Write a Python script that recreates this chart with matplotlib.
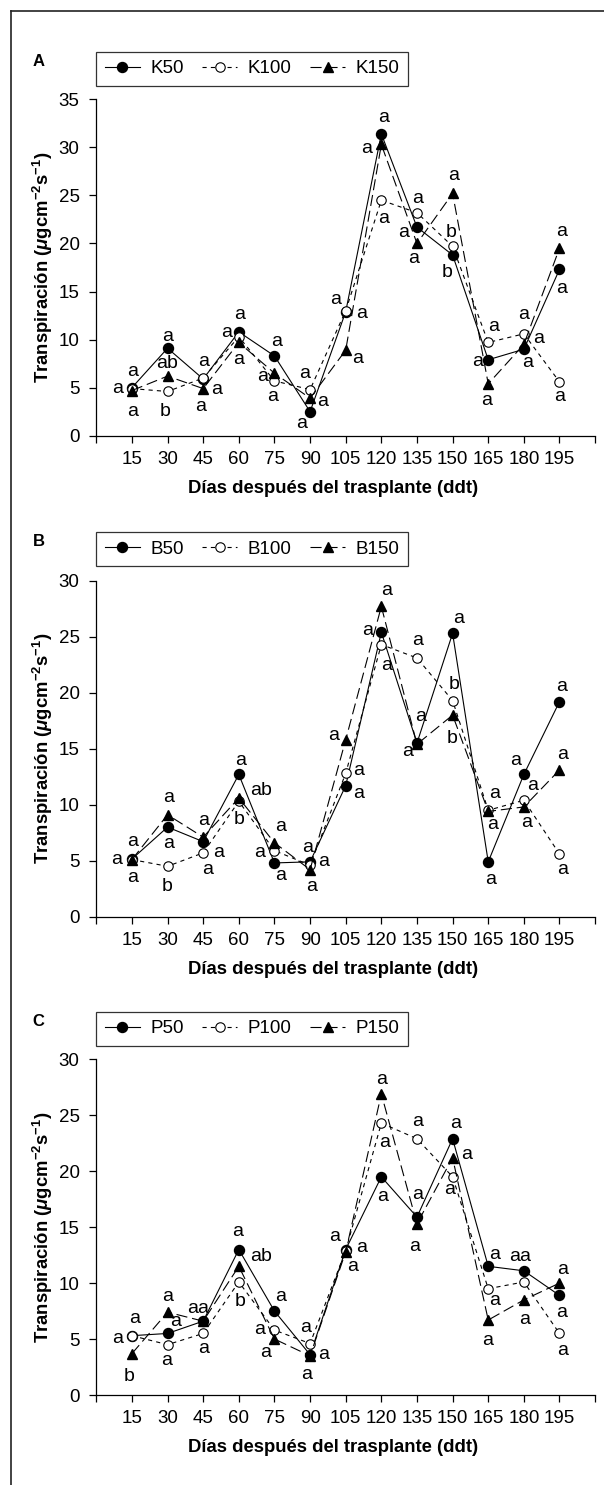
import numpy as np
import matplotlib
matplotlib.use("Agg")
import matplotlib.pyplot as plt
from matplotlib import font_manager
from matplotlib.lines import Line2D

# --- données ---
dias = [15, 30, 45, 60, 75, 90, 105, 120, 135, 150, 165, 180, 195]

k50 = [5.0, 9.1, 5.9, 10.8, 8.3, 2.5, 12.9, 31.4, 21.7, 18.8, 7.9, 9.0, 17.3]
k100 = [4.9, 4.6, 6.0, 10.3, 5.7, 4.8, 13.0, 24.5, 23.2, 19.7, 9.7, 10.6, 5.6]
k150 = [4.7, 6.2, 4.9, 9.7, 6.5, 3.9, 8.9, 30.3, 20.0, 25.2, 5.4, 9.5, 19.5]

b50 = [5.15, 8.0, 6.7, 12.7, 4.8, 4.9, 11.7, 25.4, 15.5, 25.3, 4.9, 12.7, 19.2]
b100 = [5.1, 4.5, 5.7, 10.3, 5.9, 4.6, 12.8, 24.3, 23.1, 19.3, 9.5, 10.4, 5.6]
b150 = [5.1, 9.1, 7.1, 10.6, 6.6, 4.2, 15.8, 27.7, 15.4, 18.0, 9.4, 9.8, 13.1]

p50 = [5.3, 5.5, 6.6, 13.0, 7.5, 3.6, 13.0, 19.5, 15.9, 22.9, 11.5, 11.1, 8.9]
p100 = [5.3, 4.5, 5.5, 10.1, 5.8, 4.6, 12.9, 24.3, 22.9, 19.5, 9.5, 10.1, 5.5]
p150 = [3.7, 7.4, 6.6, 11.5, 5.0, 3.5, 12.8, 26.9, 15.3, 21.2, 6.7, 8.5, 10.0]

# lettres de significativité : (jour, serie, texte, dx, dy) décalage en pixels
lettres_a = [
    (15, 0, "a", -14, -1), (15, 0, "a", 1, 16), (15, 2, "a", 1, -21),
    (30, 0, "a", 0, 12), (30, 2, "ab", 0, 13), (30, 1, "b", -2, -20),
    (45, 1, "a", 0, 17), (45, 2, "a", 13, -1), (45, 2, "a", -3, -18),
    (60, 0, "a", 1, 17), (60, 0, "a", -12, -1), (60, 2, "a", 0, -17),
    (75, 0, "a", 2, 14), (75, 2, "a", -12, -3), (75, 1, "a", -2, -16),
    (90, 1, "a", -5, 16), (90, 2, "a", 13, -3), (90, 0, "a", -8, -12),
    (105, 0, "a", -10, 12), (105, 0, "a", 16, -2), (105, 2, "a", 12, -8),
    (120, 0, "a", 2, 16), (120, 2, "a", -15, -4), (120, 1, "a", 2, -18),
    (135, 1, "a", 1, 14), (135, 0, "a", -13, -5), (135, 2, "a", -3, -15),
    (150, 2, "a", 1, 18), (150, 1, "b", -1, 14), (150, 0, "b", -5, -17),
    (165, 1, "a", 5, 16), (165, 0, "a", -11, -2), (165, 2, "a", -2, -17),
    (180, 1, "a", 0, 19), (180, 2, "a", 15, 6), (180, 0, "a", 4, -13),
    (195, 2, "a", 2, 17), (195, 0, "a", 2, -19), (195, 1, "a", 0, -15),
]
lettres_b = [
    (15, 0, "a", -15, 0), (15, 0, "a", 1, 18), (15, 0, "a", 1, -18),
    (30, 2, "a", 1, 17), (30, 0, "a", 1, -16), (30, 1, "b", 0, -20),
    (45, 2, "a", 0, 17), (45, 1, "a", 15, 0), (45, 1, "a", 4, -17),
    (60, 0, "a", 2, 14), (60, 2, "ab", 22, 7), (60, 1, "b", 0, -18),
    (75, 2, "a", 6, 16), (75, 1, "a", -15, -2), (75, 0, "a", 6, -13),
    (90, 0, "a", -2, 14), (90, 0, "a", 14, 0), (90, 2, "a", 2, -17),
    (105, 2, "a", -12, 4), (105, 1, "a", 13, 3), (105, 0, "a", 13, -8),
    (120, 2, "a", 5, 16), (120, 0, "a", -14, 2), (120, 1, "a", 5, -21),
    (135, 1, "a", 1, 17), (135, 0, "a", 4, 27), (135, 0, "a", -9, -8),
    (150, 0, "a", 6, 15), (150, 1, "b", 2, 16), (150, 2, "b", 0, -23),
    (165, 1, "a", 6, 17), (165, 2, "a", 4, -13), (165, 0, "a", 2, -18),
    (180, 0, "a", -8, 14), (180, 0, "a", 9, -11), (180, 2, "a", 3, -16),
    (195, 0, "a", 2, 15), (195, 2, "a", 3, 15), (195, 1, "a", 3, -16),
]
lettres_c = [
    (15, 0, "a", -14, -3), (15, 0, "a", 3, 17), (15, 2, "b", -3, -23),
    (30, 2, "a", 0, 16), (30, 0, "a", 8, 12), (30, 1, "a", -1, -16),
    (45, 2, "aa", -5, 13), (45, 1, "a", 0, -15),
    (60, 0, "a", -1, 18), (60, 0, "ab", 22, -7), (60, 1, "b", 1, -20),
    (75, 0, "a", 6, 15), (75, 1, "a", -15, 1), (75, 2, "a", -9, -13),
    (90, 1, "a", -4, 16), (90, 0, "a", 14, 0), (90, 0, "a", -3, -20),
    (105, 0, "a", -11, 13), (105, 0, "a", 16, 2), (105, 0, "a", 7, -17),
    (120, 2, "a", 0, 14), (120, 1, "a", 3, -19), (120, 0, "a", 1, -20),
    (135, 1, "a", 1, 17), (135, 0, "a", 1, 23), (135, 2, "a", -2, -23),
    (150, 0, "a", 3, 15), (150, 2, "a", 14, 3), (150, 1, "a", -3, -13),
    (165, 0, "a", 6, 12), (165, 1, "a", 6, -12), (165, 2, "a", -1, -20),
    (180, 0, "aa", -4, 14), (180, 2, "a", 1, -20),
    (195, 2, "a", 3, 14), (195, 0, "a", 2, -17), (195, 1, "a", 3, -17),
]

panneaux = [
    ("A", ["K50", "K100", "K150"], [k50, k100, k150], 35, lettres_a),
    ("B", ["B50", "B100", "B150"], [b50, b100, b150], 30, lettres_b),
    ("C", ["P50", "P100", "P150"], [p50, p100, p150], 30, lettres_c),
]

# --- police étroite si disponible ---
noms = {f.name for f in font_manager.fontManager.ttflist}
police = "Liberation Sans Narrow" if "Liberation Sans Narrow" in noms else "Liberation Sans"
plt.rcParams["font.family"] = [police, "DejaVu Sans"]
plt.rcParams["mathtext.fontset"] = "custom"
plt.rcParams["mathtext.rm"] = police + ":bold"
plt.rcParams["mathtext.it"] = police + ":italic:bold"
plt.rcParams["mathtext.bf"] = police + ":bold"
plt.rcParams["lines.scale_dashes"] = False

W, H = 604, 1485
fig = plt.figure(figsize=(W / 100, H / 100), dpi=100)

# cadre (bords gauche et haut seulement)
fig.add_artist(Line2D([10.5 / W, 10.5 / W], [0, 1 - 10.7 / H], transform=fig.transFigure, color="#222222", lw=1.2))
fig.add_artist(Line2D([10.5 / W, 1], [1 - 10.7 / H, 1 - 10.7 / H], transform=fig.transFigure, color="#222222", lw=1.2))

# positions des axes en pixels (haut, bas, haut de la légende, lettre)
cadres = [(99.3, 435.7, 51.7, 61.7), (580.7, 916.7, 532.3, 541.7), (1059.3, 1395.0, 1011.7, 1021.0)]
x_gauche = 96.3
largeur = 14 * 35.63

styles = [
    dict(color="black", lw=0.8, ls="-", marker="o", ms=7.2, mfc="black", mec="black", zorder=3),
    dict(color="black", lw=0.8, dashes=(3, 3), marker="o", ms=6.8, mfc="white", mec="black", mew=0.8, zorder=4),
    dict(color="black", lw=0.8, dashes=(8, 3.5), marker="^", ms=7.6, mfc="black", mec="black", zorder=5),
]

pos = np.arange(1, len(dias) + 1)

for (lettre, noms_series, series, ymax, lettres), (haut, bas, leg_haut, lettre_y) in zip(panneaux, cadres):
    ax = fig.add_axes([x_gauche / W, 1 - bas / H, largeur / W, (bas - haut) / H])
    lignes = []
    for nom, vals, st in zip(noms_series, series, styles):
        l, = ax.plot(pos, vals, label=nom, **st)
        lignes.append(l)

    for jour, s, txt, dx, dy in lettres:
        i = dias.index(jour)
        ax.annotate(txt, xy=(pos[i], series[s][i]), xytext=(dx, dy), textcoords="offset pixels",
                    ha="center", va="center", fontsize=14, zorder=6)

    ax.set_xlim(0, 14)
    ax.set_ylim(0, ymax)
    ax.set_xticks(np.arange(0, 15))
    ax.set_xticklabels([""] + [str(d) for d in dias] + [""])
    ax.set_yticks(np.arange(0, ymax + 1, 5))
    for cote in ["top", "right"]:
        ax.spines[cote].set_visible(False)
    for cote in ["left", "bottom"]:
        ax.spines[cote].set_linewidth(0.9)
    ax.tick_params(axis="both", direction="out", length=5, width=0.9, labelsize=13.5)
    ax.tick_params(axis="x", pad=6)
    ax.tick_params(axis="y", pad=7)

    ax.set_xlabel("Días después del trasplante (ddt)", fontsize=13.3, fontweight="bold", va="center")
    ax.xaxis.set_label_coords((333 - x_gauche) / largeur, -52.5 / (bas - haut))
    ax.set_ylabel("Transpiración ($\\mathit{\\mu}$gcm$^{-2}$s$^{-1}$)", fontsize=13.3,
                  fontweight="bold", va="center")
    ax.yaxis.set_label_coords((43 - x_gauche) / largeur, 0.5)

    fig.text(38.5 / W, 1 - lettre_y / H, lettre, fontsize=12, fontweight="bold", ha="center", va="center")

    leg = fig.legend(handles=lignes, loc="upper left", bbox_to_anchor=(x_gauche / W, 1 - leg_haut / H),
                     ncol=3, fontsize=13.5, frameon=True, fancybox=False, edgecolor="black",
                     handlelength=1.87, handletextpad=0.55, columnspacing=1.0, borderpad=0.45,
                     borderaxespad=0)
    leg.get_frame().set_linewidth(0.9)

fig.savefig("out.png", dpi=100)
